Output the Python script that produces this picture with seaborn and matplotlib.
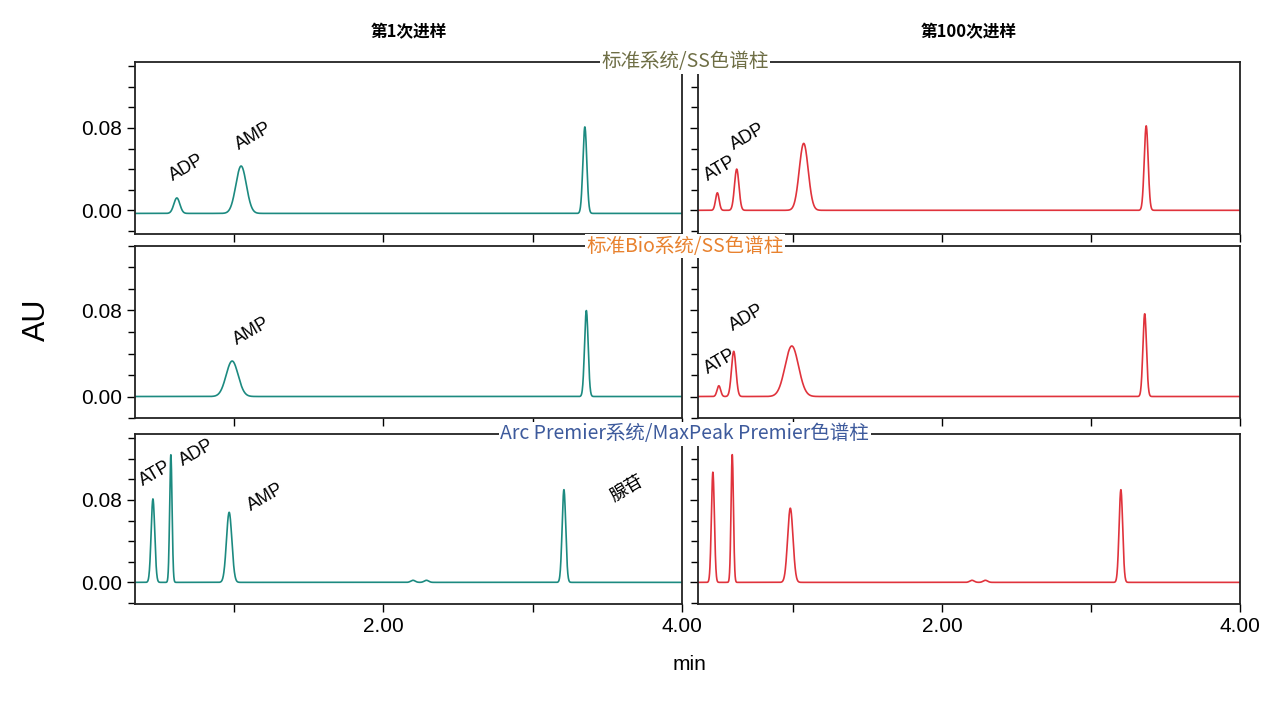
import glob
import numpy as np
import pandas as pd
import seaborn as sns
import matplotlib.pyplot as plt
from matplotlib import font_manager as fm
from matplotlib.ticker import MultipleLocator, FixedLocator

plt.rcParams['font.family'] = 'Liberation Sans'
cjk_files = [f.fname for f in fm.fontManager.ttflist if 'CJK' in f.name and 'Sans' in f.name]
if not cjk_files:
    cjk_files = glob.glob('/usr/share/fonts/**/NotoSansCJK*', recursive=True)
CJK = fm.FontProperties(fname=cjk_files[0]).get_name() if cjk_files else 'Noto Sans CJK SC'

peaks_rt = {
    (0, 0): [0.62, 1.05, 3.35],
    (0, 1): [0.49, 0.62, 1.07, 3.37],
    (1, 0): [0.99, 3.36],
    (1, 1): [0.50, 0.60, 0.99, 3.36],
    (2, 0): [0.46, 0.58, 0.97, 2.20, 2.29, 3.21],
    (2, 1): [0.46, 0.59, 0.98, 2.20, 2.29, 3.20],
}
peaks_h = {
    (0, 0): [0.015, 0.046, 0.084],
    (0, 1): [0.017, 0.040, 0.065, 0.082],
    (1, 0): [0.033, 0.080],
    (1, 1): [0.010, 0.042, 0.047, 0.077],
    (2, 0): [0.081, 0.124, 0.068, 0.002, 0.002, 0.090],
    (2, 1): [0.107, 0.124, 0.072, 0.002, 0.002, 0.090],
}
peaks_w = {
    (0, 0): [0.020, 0.035, 0.013],
    (0, 1): [0.012, 0.015, 0.030, 0.013],
    (1, 0): [0.040, 0.012],
    (1, 1): [0.012, 0.015, 0.045, 0.012],
    (2, 0): [0.012, 0.008, 0.018, 0.015, 0.015, 0.012],
    (2, 1): [0.010, 0.008, 0.018, 0.015, 0.015, 0.012],
}
baseline = {(0, 0): -0.003, (0, 1): 0.0, (1, 0): 0.0, (1, 1): 0.0, (2, 0): 0.0, (2, 1): 0.0}

row_titles = ['标准系统/SS色谱柱', '标准Bio系统/SS色谱柱', 'Arc Premier系统/MaxPeak Premier色谱柱']
row_title_colors = ['#6e6e45', '#e8822f', '#3d5a9c']
col_titles = ['第1次进样', '第100次进样']
labels = {
    (0, 0): [('ADP', 0.55, 0.025), ('AMP', 0.99, 0.055)],
    (0, 1): [('ATP', 0.38, 0.025), ('ADP', 0.56, 0.055)],
    (1, 0): [('AMP', 0.98, 0.045)],
    (1, 1): [('ATP', 0.38, 0.018), ('ADP', 0.55, 0.058)],
    (2, 0): [('ATP', 0.35, 0.09), ('ADP', 0.62, 0.11), ('AMP', 1.07, 0.066), ('腺苷', 3.50, 0.075)],
    (2, 1): [],
}
colors = ['#1c8a80', '#e0333c']

fig = plt.figure(figsize=(12.8, 7.05), dpi=100)
lefts = [135 / 1280, 698 / 1280]
widths = [547 / 1280, 542 / 1280]
rows_px = [(62, 234), (246, 418), (434, 604)]
ylims = [(-0.023, 0.144), (-0.02, 0.14), (-0.021, 0.144)]

x = np.linspace(0.34, 4.0, 3000)
for r in range(3):
    t, b = rows_px[r]
    for c in range(2):
        ax = fig.add_axes([lefts[c], 1 - b / 705, widths[c], (b - t) / 705])
        y = np.full_like(x, baseline[(r, c)])
        for rt, h, w in zip(peaks_rt[(r, c)], peaks_h[(r, c)], peaks_w[(r, c)]):
            y = y + h * np.exp(-0.5 * ((x - rt) / w) ** 2)
        df = pd.DataFrame({'min': x, 'AU': y})
        sns.lineplot(data=df, x='min', y='AU', ax=ax, color=colors[c], lw=1.2)
        ax.set_xlim(0.34 if c == 0 else 0.36, 4.0)
        ax.set_ylim(*ylims[r])
        ax.yaxis.set_major_locator(FixedLocator([0.0, 0.08]))
        ax.yaxis.set_minor_locator(MultipleLocator(0.02))
        ax.xaxis.set_major_locator(FixedLocator([1, 2, 3, 4]))
        ax.tick_params(direction='out', length=6, width=1, labelsize=15)
        ax.tick_params(which='minor', direction='out', length=5, width=1)
        ax.set_xlabel('')
        ax.set_ylabel('')
        if c == 0:
            ax.set_yticklabels(['0.00', '0.08'])
        else:
            ax.set_yticklabels([])
        if r == 2:
            ax.set_xticklabels(['', '2.00', '', '4.00'])
        else:
            ax.set_xticklabels([])
        for s in ax.spines.values():
            s.set_color('#222222')
            s.set_linewidth(1.3)
        for txt, lx, ly in labels[(r, c)]:
            ax.text(lx, ly, txt, rotation=30, fontsize=13, ha='left', va='bottom',
                    fontfamily=CJK if txt == '腺苷' else 'Liberation Sans')
        if r == 0:
            ax.set_title(col_titles[c], fontsize=12, fontweight='bold', pad=18, fontfamily=CJK)
    fig.text(0.535, 1 - t / 705, row_titles[r], ha='center', va='center',
             fontsize=14, color=row_title_colors[r], fontfamily=CJK,
             bbox=dict(facecolor='white', edgecolor='none', pad=1.0))

fig.text(37 / 1280, 1 - 320 / 705, 'AU', rotation=90, fontsize=22, ha='center', va='center')
fig.text(690 / 1280, 1 - 665 / 705, 'min', fontsize=15, ha='center', va='center')
fig.savefig('out.png', dpi=100)
